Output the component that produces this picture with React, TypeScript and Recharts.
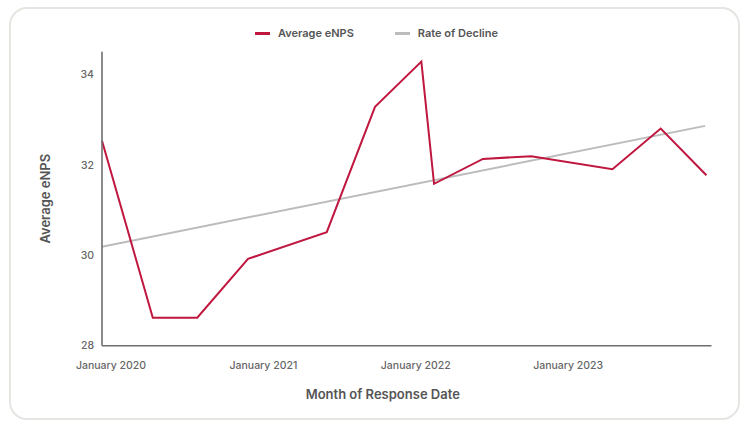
import React from "react";
import { LineChart, Line, XAxis, YAxis } from "recharts";

// months since January 2020
const months = [0, 4, 7.5, 11.5, 17.7, 21.5, 25.15, 26.15, 30, 33.8, 40.2, 44, 47.6];
const enps = [32.53, 28.62, 28.62, 29.92, 30.51, 33.28, 34.28, 31.58, 32.13, 32.19, 31.9, 32.8, 31.77];

// straight trend line, two ends
const trendMonths = [0, 47.5];
const trendValues = [30.19, 32.86];

const yTicks = [28, 30, 32, 34];
const xTicks = [0, 12, 24, 36];
const xTickLabels = ["January 2020", "January 2021", "January 2022", "January 2023"];

const RED = "#c0173f";
const GREY = "#bcbcbc";
const FONT = "Inter, sans-serif";

const enpsData = months.map((m, i) => ({ m, enps: enps[i] }));
const trendData = trendMonths.map((m, i) => ({ m, trend: trendValues[i] }));

function XTick(props: any) {
  const { x, y, payload } = props;
  const idx = xTicks.indexOf(payload.value);
  return (
    <text x={x + 9} y={y} dy={15} textAnchor="middle" fill="#666" fontSize={10.5} fontFamily={FONT} fontWeight={500}>
      {xTickLabels[idx]}
    </text>
  );
}

function LegendItem({ color, label }: { color: string; label: string }) {
  return (
    <div style={{ display: "flex", alignItems: "center" }}>
      <div style={{ width: 15, height: 3, background: color, marginRight: 8 }} />
      <span>{label}</span>
    </div>
  );
}

export default function App() {
  return (
    <div style={{ position: "absolute", left: 0, top: 0, width: 750, height: 429, background: "#fff", fontFamily: FONT }}>
      <div
        style={{
          position: "absolute",
          left: 9,
          top: 7,
          width: 731,
          height: 413,
          border: "2px solid #e5e5e2",
          borderRadius: 18,
          boxSizing: "border-box",
        }}
      />
      <div
        style={{
          position: "absolute",
          top: 25,
          left: 255,
          display: "flex",
          gap: 41,
          fontSize: 11,
          fontWeight: 600,
          color: "#555",
          lineHeight: "16px",
        }}
      >
        <LegendItem color={RED} label="Average eNPS" />
        <LegendItem color={GREY} label="Rate of Decline" />
      </div>
      <div style={{ position: "absolute", left: 0, top: 0 }}>
        <LineChart width={750} height={429} margin={{ top: 51.7, right: 38.5, bottom: 53.3, left: 42 }}>
          <XAxis
            dataKey="m"
            type="number"
            domain={[0, 48]}
            ticks={xTicks}
            allowDuplicatedCategory={false}
            height={30}
            tickLine={false}
            axisLine={{ stroke: "#6e6e6e", strokeWidth: 1.6 }}
            tick={<XTick />}
            label={{
              value: "Month of Response Date",
              position: "center",
              dx: -24,
              dy: 34,
              style: { fontSize: 13, fontWeight: 600, fill: "#555", fontFamily: FONT },
            }}
          />
          <YAxis
            type="number"
            domain={[28, 34.5]}
            ticks={yTicks}
            width={60}
            tickLine={false}
            axisLine={{ stroke: "#6e6e6e", strokeWidth: 1.6 }}
            tick={{ fill: "#666", fontSize: 10.5, fontFamily: FONT, fontWeight: 500 }}
            label={{
              value: "Average eNPS",
              angle: -90,
              position: "center",
              dx: -27,
              style: { fontSize: 13, fontWeight: 600, fill: "#555", fontFamily: FONT, textAnchor: "middle" },
            }}
          />
          <Line
            data={trendData}
            dataKey="trend"
            type="linear"
            stroke={GREY}
            strokeWidth={2}
            dot={false}
            activeDot={false}
            isAnimationActive={false}
          />
          <Line
            data={enpsData}
            dataKey="enps"
            type="linear"
            stroke={RED}
            strokeWidth={2}
            dot={false}
            activeDot={false}
            isAnimationActive={false}
          />
        </LineChart>
      </div>
    </div>
  );
}
